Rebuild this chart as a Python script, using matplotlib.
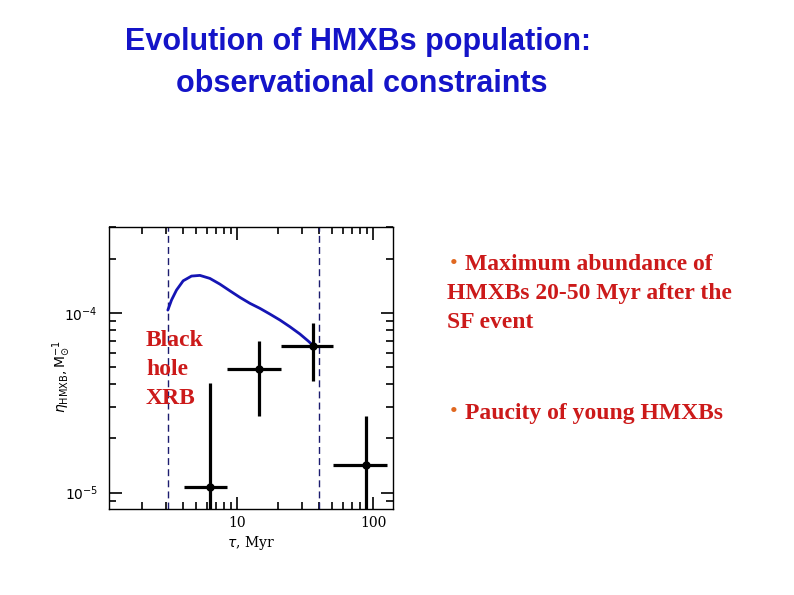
import numpy as np
import matplotlib.pyplot as plt
from matplotlib.ticker import LogLocator, NullFormatter, FixedLocator

# observed HMXB abundance per age bin
age = [6.3, 14.6, 36.4, 89.0]
age_lo = [4.1, 8.4, 20.9, 51.0]
age_hi = [8.4, 20.9, 51.0, 126.0]
eta = [1.08e-5, 4.84e-5, 6.53e-5, 1.42e-5]
eta_lo = [5e-6, 2.67e-5, 4.19e-5, 5e-6]
eta_hi = [4.06e-5, 6.97e-5, 8.8e-5, 2.67e-5]

# model curve
model_t = [3.11, 3.31, 3.60, 4.03, 4.64, 5.35, 6.33, 7.50, 8.89, 10.52, 12.47,
           14.76, 17.49, 20.7, 24.5, 29.0, 33.4, 37.5]
model_eta = [1.035e-4, 1.177e-4, 1.337e-4, 1.506e-4, 1.600e-4, 1.614e-4, 1.553e-4,
             1.443e-4, 1.324e-4, 1.218e-4, 1.128e-4, 1.058e-4, 9.83e-5, 9.11e-5,
             8.36e-5, 7.62e-5, 6.96e-5, 6.42e-5]

vlines = [3.13, 40.0]

fig = plt.figure(figsize=(7.94, 5.95), dpi=100)

fig.text(358/794, 1-42/595, "Evolution of HMXBs population:", ha="center", va="center",
         fontsize=22, fontweight="bold", color="#1414c8", family="Liberation Sans")
fig.text(362/794, 1-84/595, "observational constraints", ha="center", va="center",
         fontsize=22, fontweight="bold", color="#1414c8", family="Liberation Sans")

ax = fig.add_axes([109/794, 1-509/595, 284/794, 282/595])
ax.set_xscale("log")
ax.set_yscale("log")
ax.set_xlim(1.15, 140)
ax.set_ylim(8.1e-6, 3.0e-4)

for v in vlines:
    ax.axvline(v, color="#1c1c70", lw=1, ls=(0, (5, 3)))

ax.plot(model_t, model_eta, color="#1515b4", lw=2, solid_capstyle="round")

xerr = [np.array(age) - np.array(age_lo), np.array(age_hi) - np.array(age)]
yerr = [np.array(eta) - np.array(eta_lo), np.array(eta_hi) - np.array(eta)]
ax.errorbar(age, eta, xerr=xerr, yerr=yerr, fmt="o", color="black", ms=5,
            elinewidth=2.3, capsize=0)

ax.xaxis.set_major_locator(FixedLocator([10, 100]))
ax.xaxis.set_minor_locator(LogLocator(base=10, subs=np.arange(2, 10)))
ax.xaxis.set_minor_formatter(NullFormatter())
ax.set_xticklabels(["10", "100"])
ax.yaxis.set_major_locator(FixedLocator([1e-5, 1e-4]))
ax.yaxis.set_minor_locator(LogLocator(base=10, subs=np.arange(2, 10)))
ax.yaxis.set_minor_formatter(NullFormatter())
ax.set_yticklabels([r"$10^{-5}$", r"$10^{-4}$"])
ax.tick_params(which="both", direction="in", top=True, right=True, labelsize=10,
               width=1.2)
ax.tick_params(which="major", length=9)
ax.tick_params(axis="x", which="major", pad=5)
ax.tick_params(axis="y", which="major", pad=8)
ax.tick_params(which="minor", length=5)
for lab in ax.get_xticklabels() + ax.get_yticklabels():
    lab.set_family("DejaVu Serif")
for s in ax.spines.values():
    s.set_linewidth(1)

ax.set_xlabel(r"$\tau$, Myr", fontsize=10, family="DejaVu Serif", labelpad=3)
ax.set_ylabel(r"$\eta_{\rm HMXB}, {\rm M}_{\odot}^{-1}$", fontsize=10)
ax.yaxis.set_label_coords(-0.13, 0.47)

red = "#cc1a1a"
for i, w in enumerate(["Black", "hole", "XRB"]):
    fig.text(146/794, 1-(340+29.5*i)/595, w, ha="left", va="center", fontsize=17,
             fontweight="bold", color=red, family="Liberation Serif")

fig.text(450/794, 1-265/595, "\u2022", ha="left", va="center", fontsize=16,
         color="#e06820", family="Liberation Serif")
fig.text(465/794, 1-265/595, "Maximum abundance of", ha="left", va="center",
         fontsize=17, fontweight="bold", color=red, family="Liberation Serif")
fig.text(447/794, 1-294/595, "HMXBs 20-50 Myr after the", ha="left", va="center",
         fontsize=17, fontweight="bold", color=red, family="Liberation Serif")
fig.text(447/794, 1-322/595, "SF event", ha="left", va="center",
         fontsize=17, fontweight="bold", color=red, family="Liberation Serif")
fig.text(450/794, 1-413/595, "\u2022", ha="left", va="center", fontsize=16,
         color="#e06820", family="Liberation Serif")
fig.text(465/794, 1-413/595, "Paucity of young HMXBs", ha="left", va="center",
         fontsize=17, fontweight="bold", color=red, family="Liberation Serif")

fig.savefig("out.png", dpi=100)
